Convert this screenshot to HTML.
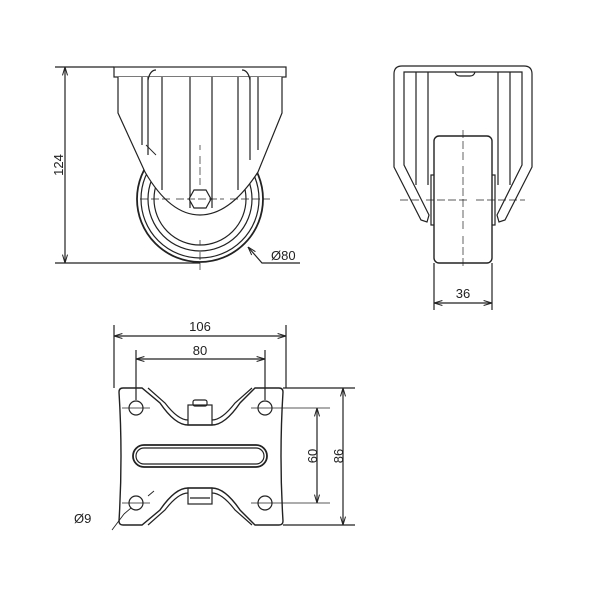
<!DOCTYPE html>
<html><head><style>body{margin:0;background:#fff}svg{display:block}text{font-family:"Liberation Sans",sans-serif;font-size:13px;fill:#222}</style></head>
<body>
<svg width="600" height="600" viewBox="0 0 600 600" xmlns="http://www.w3.org/2000/svg">
<defs>
<marker id="a" viewBox="0 0 10 10" refX="10" refY="5" markerWidth="7" markerHeight="7" orient="auto-start-reverse"><path d="M0,2 L10,5 L0,8" fill="none" stroke="#222" stroke-width="1.2"/></marker>
</defs>
<g fill="none" stroke="#222" stroke-width="1.2">
<!-- FRONT VIEW -->
<circle cx="200" cy="199" r="63" stroke-width="1.8"/>
<circle cx="200" cy="199" r="59"/>
<circle cx="200" cy="199" r="52"/>
<circle cx="200" cy="199" r="46"/>
<rect x="114" y="67" width="172" height="10" fill="#fff"/>
<path d="M118,77 V113 L145,172 Q170,215 200,215 Q230,215 258,172 L282,113 V77" fill="#fff"/>
<path d="M142,77 V145 M148,77 V155 M162,77 V190 M190,77 V208 M212,77 V208 M238,77 V190 M250,77 V160 M258,77 V150"/>
<path d="M148,80 Q150,70 156,70 M250,80 Q248,70 242,70"/>
<polygon points="194,190 206,190 211,199 206,208 194,208 189,199" fill="#fff"/>
<path d="M140,199 H170 M176,199 H224 M230,199 H270 M200,145 V150 M200,156 V185 M200,240 V245 M200,252 V270" stroke-width="0.7" stroke-dasharray="8,3"/>
<path d="M146,145 L156,155" stroke-width="0.9"/>
<path d="M55,67 H114 M55,263 H200"/>
<path d="M65,67 V263" marker-start="url(#a)" marker-end="url(#a)"/>
<path d="M300,263 H262 L248,247" marker-end="url(#a)"/>
<!-- SIDE VIEW -->
<path d="M394,167 V74 Q394,66 402,66 H524 Q532,66 532,74 V167 L505,220 L499,222 L497,215 L522,165 V72 H404 V165 L429,215 L427,222 L421,220 Z" fill="#fff"/>
<path d="M416,72 V185 M428,72 V185 M510,72 V185 M498,72 V185"/>
<path d="M455,72 Q456,76 460,76 H470 Q474,76 475,72"/>
<rect x="431" y="175" width="5" height="50"/>
<rect x="490" y="175" width="5" height="50"/>
<rect x="434" y="136" width="58" height="127" rx="5" fill="#fff" stroke-width="1.4"/>
<path d="M400,200 H420 M426,200 H470 M476,200 H525 M463,130 V160 M463,166 V230 M463,236 V268" stroke-width="0.7" stroke-dasharray="8,3"/>
<path d="M434,263 V310 M492,263 V310"/>
<path d="M434,303 H492" marker-start="url(#a)" marker-end="url(#a)"/>
<!-- BOTTOM VIEW -->
<path d="M123,388 H142 L160,403 Q175,425 188,425 H212 Q225,425 240,403 L255,388 H279 Q283,388 283,392 Q279,456 283,521 Q283,525 279,525 H255 L240,510 Q225,488 212,488 H188 Q175,488 160,510 L142,525 H123 Q119,525 119,521 Q123,456 119,392 Q119,388 123,388 Z" stroke-width="1.4"/>
<path d="M148,388 L165,403 Q178,420 188,420 M252,388 L235,403 Q222,420 212,420 M148,525 L165,510 Q178,493 188,493 M252,525 L235,510 Q222,493 212,493"/>
<rect x="188" y="405" width="24" height="20"/><rect x="193" y="400" width="14" height="6" rx="2"/>
<rect x="188" y="488" width="24" height="16"/><path d="M190,498 H210"/>
<rect x="133" y="445" width="134" height="22" rx="11" stroke-width="1.8"/>
<rect x="136" y="448" width="128" height="16" rx="8"/>
<circle cx="136" cy="408" r="7"/><circle cx="265" cy="408" r="7"/><circle cx="136" cy="503" r="7"/><circle cx="265" cy="503" r="7"/>
<path d="M122,408 H150 M251,408 H330 M122,503 H150 M251,503 H330" stroke-width="0.7"/>
<path d="M114,325 V388 M286,325 V388 M136,350 V400 M265,350 V400 M283,388 H355 M283,525 H355"/>
<path d="M114,336 H286" marker-start="url(#a)" marker-end="url(#a)"/>
<path d="M136,359 H265" marker-start="url(#a)" marker-end="url(#a)"/>
<path d="M317,408 V503" marker-start="url(#a)" marker-end="url(#a)"/>
<path d="M343,388 V525" marker-start="url(#a)" marker-end="url(#a)"/>
<path d="M148,496 L154,491 M124,514 L131,508 M112,530 L124,514" stroke-width="0.9"/>
</g>
<text x="58" y="170" text-anchor="middle" transform="rotate(-90 58 165)">124</text>
<text x="271" y="260">Ø80</text>
<text x="463" y="298" text-anchor="middle">36</text>
<text x="200" y="331" text-anchor="middle">106</text>
<text x="200" y="355" text-anchor="middle">80</text>
<text x="312" y="461" text-anchor="middle" transform="rotate(-90 312 456)">60</text>
<text x="338" y="461" text-anchor="middle" transform="rotate(-90 338 456)">86</text>
<text x="74" y="523">Ø9</text>
</svg>
</body></html>
